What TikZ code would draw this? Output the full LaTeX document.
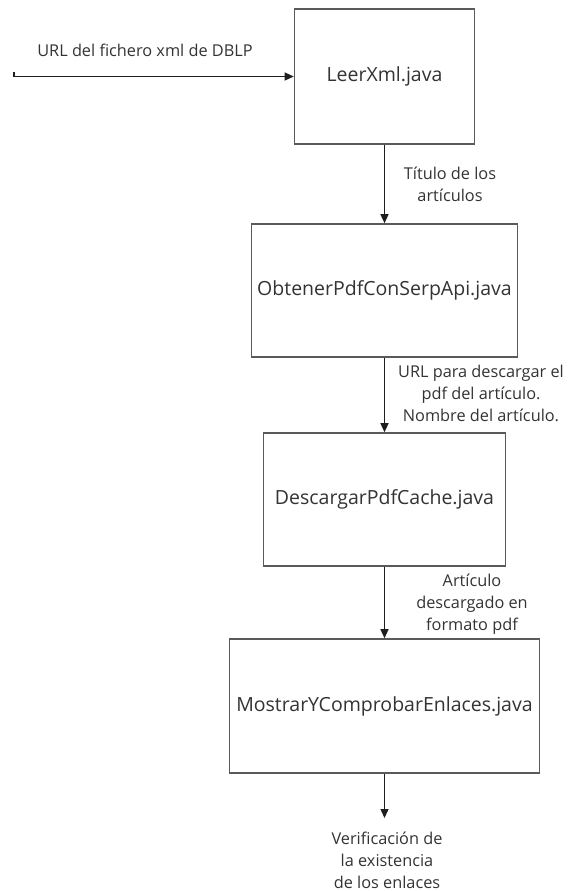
\documentclass[tikz,border=0pt]{standalone}
\usepackage{fontspec}
\setmainfont{Open Sans}
\usetikzlibrary{arrows.meta}
\definecolor{inktext}{HTML}{333333}
\definecolor{boxline}{HTML}{5A5A5A}
\definecolor{wire}{HTML}{1E1E1E}
\tikzset{
  module/.style={draw=boxline, line width=1.6pt, fill=white, inner sep=0pt,
    text=inktext, font=\fontsize{19.5}{26}\selectfont, align=center},
  flowlabel/.style={text=inktext, font=\fontsize{16.3}{22}\selectfont,
    align=center, inner sep=0pt},
  flow/.style={draw=wire, line width=1.3pt,
    -{Triangle[length=9pt,width=8pt]}},
}
\begin{document}
\begin{tikzpicture}[x=1pt,y=-1pt]
  \useasboundingbox (0,0) rectangle (568,891);

  % processing stages
  \node[module, minimum width=180pt, minimum height=135pt] (leer) at (384.5,76.5) {LeerXml.java};
  \node[module, minimum width=266pt, minimum height=133pt] (serp) at (384.5,290.5) {ObtenerPdfConSerpApi.java};
  \node[module, minimum width=242pt, minimum height=133pt] (cache) at (384.5,499.5) {DescargarPdfCache.java};
  \node[module, minimum width=310pt, minimum height=134pt] (links) at (384.5,706) {MostrarYComprobarEnlaces.java};

  % input and output ends
  \coordinate (src) at (14,72);
  \coordinate (srcline) at (14,76.5);
  \coordinate (out) at (384.5,818);

  \draw[flow] (src) -- (srcline) -- (leer.west);
  \draw[flow] (leer.south) -- (serp.north);
  \draw[flow] (serp.south) -- (cache.north);
  \draw[flow] (cache.south) -- (links.north);
  \draw[flow] (links.south) -- (out);

  % data carried between stages
  \node[flowlabel] (lin) at (145,50) {URL del fichero xml de DBLP};
  \node[flowlabel] (l1) at (450,184) {Título de los\\artículos};
  \node[flowlabel] (l2) at (481,393) {URL para descargar el\\pdf del artículo.\\Nombre del artículo.};
  \node[flowlabel] (l3) at (472,604) {Artículo\\descargado en\\formato pdf};
  \node[flowlabel] (res) at (387,860) {Verificación de\\la existencia\\de los enlaces};
\end{tikzpicture}
\end{document}
